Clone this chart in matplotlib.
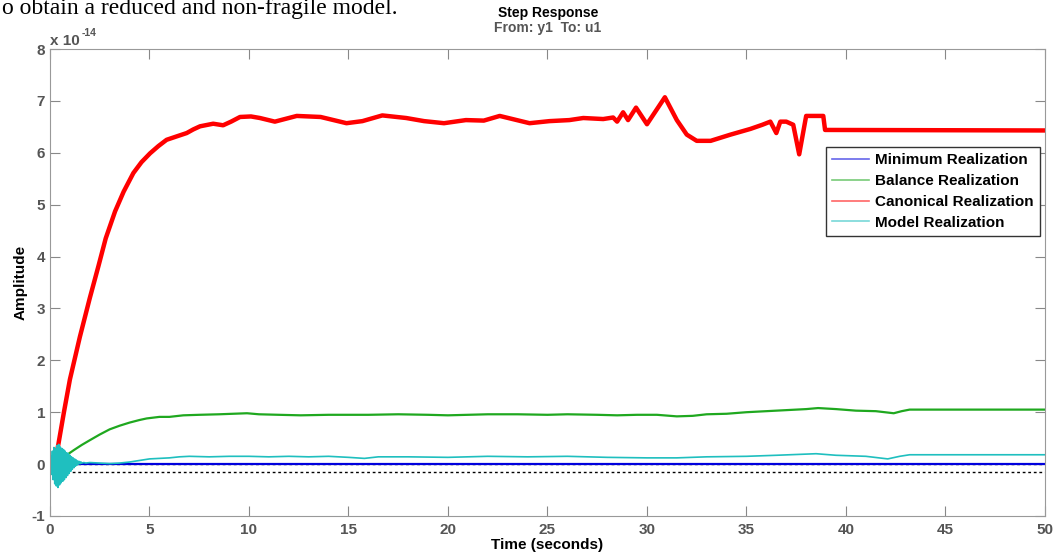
import matplotlib
matplotlib.use("Agg")
import matplotlib.pyplot as plt

plt.rcParams['font.family'] = ['Liberation Sans', 'DejaVu Sans']
plt.rcParams['axes.unicode_minus'] = False

# values in units of 1e-14
t_min = [0, 5, 10, 15, 20, 25, 30, 35, 40, 45, 50]
y_min = [0, 0, 0, 0, 0, 0, 0, 0, 0, 0, 0]

t_bal = [0, 0.5, 0.9, 1.2, 1.6, 2.0, 2.5, 3.0, 3.5, 4.0, 4.5, 4.86, 5.5, 6.0, 6.7, 7.5,
         8.5, 9.9, 10.5, 11.5, 12.6, 14, 16, 17.5, 19, 20, 21, 22, 23.5, 25, 26, 27.5,
         28.5, 29.5, 30.5, 31.5, 32.3, 33, 34, 35, 36, 37, 38, 38.6, 39.5, 40.5, 41.5,
         42.4, 42.8, 43.2, 50]
y_bal = [0, 0.1, 0.19, 0.27, 0.37, 0.46, 0.57, 0.67, 0.74, 0.8, 0.85, 0.88, 0.91, 0.91,
         0.94, 0.95, 0.96, 0.98, 0.96, 0.95, 0.94, 0.95, 0.95, 0.96, 0.95, 0.94, 0.95, 0.96,
         0.96, 0.95, 0.96, 0.95, 0.94, 0.95, 0.95, 0.92, 0.93, 0.96, 0.97, 1.0, 1.02, 1.04,
         1.06, 1.08, 1.06, 1.03, 1.02, 0.98, 1.02, 1.05, 1.05]

t_can = [0, 0.25, 0.42, 0.7, 1.0, 1.5, 2.0, 2.43, 2.8, 3.27, 3.7, 4.19, 4.6, 5.03, 5.45,
         5.86, 6.4, 6.87, 7.2, 7.54, 8.2, 8.7, 9.1, 9.55, 10.1, 10.55, 11.3, 12.4, 13.6,
         14.9, 15.7, 16.7, 17.9, 18.8, 19.8, 20.9, 21.8, 22.6, 24.1, 25.1, 26.1, 26.8,
         27.8, 28.3, 28.5, 28.8, 29.05, 29.45, 30.0, 30.9, 31.5, 32.0, 32.5, 33.2, 34.2,
         35.2, 35.8, 36.2, 36.5, 36.7, 37.0, 37.35, 37.65, 38.0, 38.86, 38.95, 50]
y_can = [0, 0.05, 0.38, 1.0, 1.63, 2.45, 3.2, 3.81, 4.35, 4.87, 5.25, 5.61, 5.82, 5.99,
         6.13, 6.25, 6.32, 6.38, 6.45, 6.51, 6.56, 6.53, 6.6, 6.69, 6.7, 6.67, 6.6, 6.71,
         6.69, 6.57, 6.61, 6.72, 6.67, 6.61, 6.57, 6.63, 6.62, 6.71, 6.57, 6.61, 6.63,
         6.67, 6.65, 6.68, 6.6, 6.78, 6.63, 6.87, 6.55, 7.07, 6.63, 6.35, 6.23, 6.23, 6.35,
         6.46, 6.54, 6.6, 6.38, 6.6, 6.6, 6.54, 5.97, 6.71, 6.71, 6.44, 6.43]

t_mod = [0.00, 0.04, 0.08, 0.12, 0.16, 0.20, 0.24, 0.28, 0.32, 0.36, 0.40, 0.44, 0.48,
         0.52, 0.56, 0.60, 0.64, 0.68, 0.72, 0.76, 0.80, 0.84, 0.88, 0.92, 0.96, 1.00,
         1.04, 1.08, 1.12, 1.16, 1.20, 1.24, 1.28, 1.32, 1.36, 1.40, 1.44, 1.48, 1.52,
         1.56, 1.60, 1.70, 1.80, 2.0, 2.5, 3.0, 3.5, 4.0, 4.5, 5.0, 5.5, 6.0, 6.5, 7, 8,
         9, 10, 11, 12, 13, 14, 15, 15.8, 16.5, 18, 20, 22, 24, 26, 28, 30, 31.5, 33, 35,
         36.5, 38.5, 39.5, 41, 42.1, 42.7, 43.2, 50]
y_mod = [0.0, 0.15, -0.20, 0.25, -0.30, 0.32, -0.38, 0.30, -0.42, 0.36, -0.45, 0.38,
         -0.40, 0.33, -0.36, 0.30, -0.33, 0.28, -0.30, 0.25, -0.26, 0.22, -0.22, 0.20,
         -0.18, 0.17, -0.14, 0.14, -0.10, 0.12, -0.07, 0.10, -0.04, 0.08, -0.02, 0.06,
         0.0, 0.05, 0.01, 0.04, 0.02, 0.03, 0.02, 0.03, 0.02, 0.01, 0.02, 0.04, 0.07,
         0.10, 0.11, 0.12, 0.14, 0.15, 0.14, 0.15, 0.15, 0.14, 0.15, 0.14, 0.15, 0.13,
         0.11, 0.14, 0.14, 0.13, 0.15, 0.14, 0.15, 0.13, 0.12, 0.12, 0.14, 0.15, 0.17,
         0.2, 0.17, 0.15, 0.1, 0.15, 0.18, 0.18]

labels = ['Minimum Realization', 'Balance Realization',
          'Canonical Realization', 'Model Realization']

gray = '#555555'
fig = plt.figure(figsize=(10.57, 5.6), dpi=100)
ax = fig.add_axes([0.0473, 0.0786, 0.9413, 0.8339])

ax.axhline(0, color='k', ls=(0, (2, 2)), lw=1, zorder=1)
ax.axhline(-0.15, color='k', ls=(0, (2, 2)), lw=1, zorder=1)
ax.plot(t_min, y_min, color='#0000dd', lw=1.6, label=labels[0])
ax.plot(t_bal, y_bal, color='#1fa81f', lw=1.6, label=labels[1])
ax.plot(t_can, y_can, color='#ff0000', lw=3.2, label=labels[2])
ax.plot(t_mod, y_mod, color='#1fbfbf', lw=1.2, label=labels[3])

ax.set_xlim(0, 50)
ax.set_ylim(-1, 8)
ax.set_xticks(range(0, 51, 5))
ax.set_yticks(range(-1, 9))
ax.tick_params(direction='in', length=7, top=True, right=True, color='#888888',
               labelcolor=gray, labelsize=11)
ax.tick_params(axis='x', pad=5)
for lab in ax.get_xticklabels() + ax.get_yticklabels():
    lab.set_fontweight('bold')
for s in ax.spines.values():
    s.set_color('#999999')

ax.set_xlabel('Time (seconds)', fontsize=11, fontweight='bold', labelpad=1)
ax.set_ylabel('Amplitude', fontsize=11, fontweight='bold', labelpad=3)

leg = ax.legend(loc='upper right', bbox_to_anchor=(0.995, 0.79), borderaxespad=0,
                fancybox=False, edgecolor='#333333', framealpha=1,
                prop={'weight': 'bold', 'size': 11}, handlelength=2.4,
                handletextpad=0.4, labelspacing=0.45, borderpad=0.4)
leg.get_frame().set_linewidth(1.0)
for h in leg.get_lines():
    h.set_linewidth(1.2)
    h.set_alpha(0.6)

fig.text(0.5184, 1 - 13 / 560, 'Step Response', ha='center', va='center',
         fontsize=10, fontweight='bold')
fig.text(0.5184, 1 - 28 / 560, 'From: y1  To: u1', ha='center', va='center',
         fontsize=10, fontweight='bold', color=gray)
fig.text(50 / 1057, 1 - 45 / 560, 'x 10', ha='left', va='baseline',
         fontsize=11, fontweight='bold', color=gray)
fig.text(82 / 1057, 1 - 36 / 560, '-14', ha='left', va='baseline',
         fontsize=7.5, fontweight='bold', color=gray)

fig.text(0.002, 1 - 14 / 560, 'o obtain a reduced and non-fragile model.',
         ha='left', va='baseline', fontsize=17, family='Liberation Serif')

fig.savefig('out.png', dpi=100)
